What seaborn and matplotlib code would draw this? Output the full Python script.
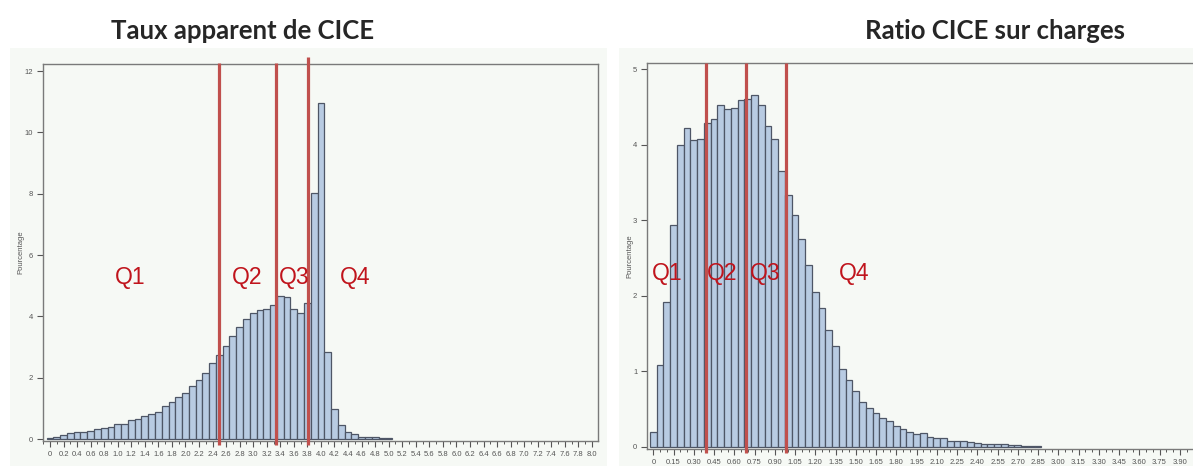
import numpy as np
import pandas as pd
import matplotlib
matplotlib.use("Agg")
import matplotlib.pyplot as plt
import seaborn as sns
from matplotlib.ticker import FixedLocator, MultipleLocator, FuncFormatter

# left histogram: taux apparent de CICE, bins of 0.1 centred on 0, 0.1, ...
taux_width = 0.1
taux_pct = [0.02, 0.07, 0.13, 0.20, 0.24, 0.24, 0.26, 0.33, 0.37, 0.39,
            0.48, 0.50, 0.61, 0.65, 0.74, 0.83, 0.89, 1.09, 1.20, 1.37,
            1.50, 1.74, 1.91, 2.15, 2.47, 2.74, 3.02, 3.36, 3.64, 3.90,
            4.10, 4.20, 4.25, 4.38, 4.67, 4.62, 4.25, 4.12, 4.42, 8.01,
            10.97, 2.84, 0.97, 0.47, 0.24, 0.15, 0.08, 0.05, 0.05, 0.04,
            0.02]
taux_quartiles = [2.49, 3.34, 3.81]
taux_q_labels = ["Q1", "Q2", "Q3", "Q4"]
taux_q_x = [1.18, 2.91, 3.60, 4.50]
taux_q_y = 5.28
taux_xticks = [i * 0.2 for i in range(41)]

# right histogram: ratio CICE sur charges, bins of 0.05
ratio_width = 0.05
ratio_pct = [0.20, 1.08, 1.91, 2.93, 4.00, 4.22, 4.06, 4.08, 4.28, 4.34,
             4.52, 4.47, 4.49, 4.59, 4.61, 4.66, 4.52, 4.25, 4.07, 3.65,
             3.33, 3.07, 2.75, 2.40, 2.05, 1.84, 1.55, 1.34, 1.03, 0.88,
             0.74, 0.59, 0.51, 0.45, 0.38, 0.34, 0.28, 0.24, 0.19, 0.17,
             0.18, 0.13, 0.11, 0.11, 0.08, 0.08, 0.07, 0.06, 0.05, 0.04,
             0.04, 0.04, 0.03, 0.02, 0.02, 0.01, 0.01, 0.01]
ratio_quartiles = [0.388, 0.69, 0.983]
ratio_q_labels = ["Q1", "Q2", "Q3", "Q4"]
ratio_q_x = [0.10, 0.51, 0.83, 1.49]
ratio_q_y = 2.29
ratio_xticks = [i * 0.15 for i in range(27)]

titles = ["Taux apparent de CICE", "Ratio CICE sur charges"]
ylabel = "Pourcentage"

bar_fill = "#b8cbe2"
bar_edge = "#4e5666"
red = "#c0504d"
qred = "#c0141c"
panel_bg = "#f6f9f5"
tick_col = "#555555"

sns.set_style("white")
plt.rcParams["font.family"] = ["Liberation Sans", "DejaVu Sans"]

fig = plt.figure(figsize=(11.93, 4.66), dpi=100)
fig.patch.set_facecolor("white")

# light panels behind each chart
for x0, w in [(10, 597), (619, 580)]:
    fig.patches.append(plt.Rectangle((x0 / 1193, 0), w / 1193, 1 - 48 / 466,
                                     transform=fig.transFigure,
                                     facecolor=panel_bg, edgecolor="none",
                                     zorder=-5))

ax1 = fig.add_axes([43 / 1193, 1 - 441 / 466, 555 / 1193, 377 / 466])
ax2 = fig.add_axes([647 / 1193, 1 - 449 / 466, 553 / 1193, 386 / 466])


def draw(ax, pct, width, quart, qlab, qx, qy, xlim, ylim, xt, yt, fmt, vtop):
    centers = np.arange(len(pct)) * width
    df = pd.DataFrame({"x": centers, "pct": pct})
    lo = -width / 2
    hi = centers[-1] + width / 2
    sns.histplot(data=df, x="x", weights="pct", binwidth=width,
                 binrange=(lo, hi), ax=ax, color=bar_fill,
                 edgecolor=bar_edge, linewidth=0.9, alpha=1)
    ax.vlines(quart, ylim[0] - 0.01 * ylim[1], vtop, color=red, lw=2.3,
              clip_on=False, zorder=5)
    for lab, x in zip(qlab, qx):
        ax.text(x, qy, lab, color=qred, fontsize=16.5, ha="center",
                va="center", zorder=6)
    ax.set_xlim(*xlim)
    ax.set_ylim(*ylim)
    ax.set_facecolor(panel_bg)
    ax.xaxis.set_major_locator(FixedLocator(xt))
    ax.xaxis.set_minor_locator(MultipleLocator(width))
    ax.xaxis.set_major_formatter(FuncFormatter(
        lambda v, p: "0" if abs(v) < 1e-9 else fmt % v))
    ax.set_yticks(yt)
    ax.tick_params(axis="both", which="major", direction="out", length=4,
                   width=0.8, colors=tick_col, labelsize=5.5, pad=3,
                   bottom=True, left=True)
    ax.tick_params(axis="x", which="minor", direction="out", length=2.5,
                   width=0.7, colors=tick_col, bottom=True)
    ax.set_xlabel("")
    ax.set_ylabel(ylabel, fontsize=5.5, color=tick_col, labelpad=0)
    for s in ax.spines.values():
        s.set_color("#7a7a7a")
        s.set_linewidth(1.0)


draw(ax1, taux_pct, taux_width, taux_quartiles, taux_q_labels, taux_q_x,
     taux_q_y, (-0.103, 8.09), (-0.065, 12.23), taux_xticks, range(0, 13, 2),
     "%.1f", [12.25, 12.25, 12.45])
draw(ax2, ratio_pct, ratio_width, ratio_quartiles, ratio_q_labels, ratio_q_x,
     ratio_q_y, (-0.047, 4.05), (-0.03, 5.08), ratio_xticks, range(0, 6),
     "%.2f", 5.08)

fig.text(243 / 1193, 1 - 31 / 466, titles[0], ha="center", va="center",
         fontsize=18.5, fontweight="bold", family=["Lato", "DejaVu Sans"])
fig.text(995 / 1193, 1 - 31 / 466, titles[1], ha="center", va="center",
         fontsize=18.5, fontweight="bold", family=["Lato", "DejaVu Sans"])

fig.savefig("out.png", dpi=100)
